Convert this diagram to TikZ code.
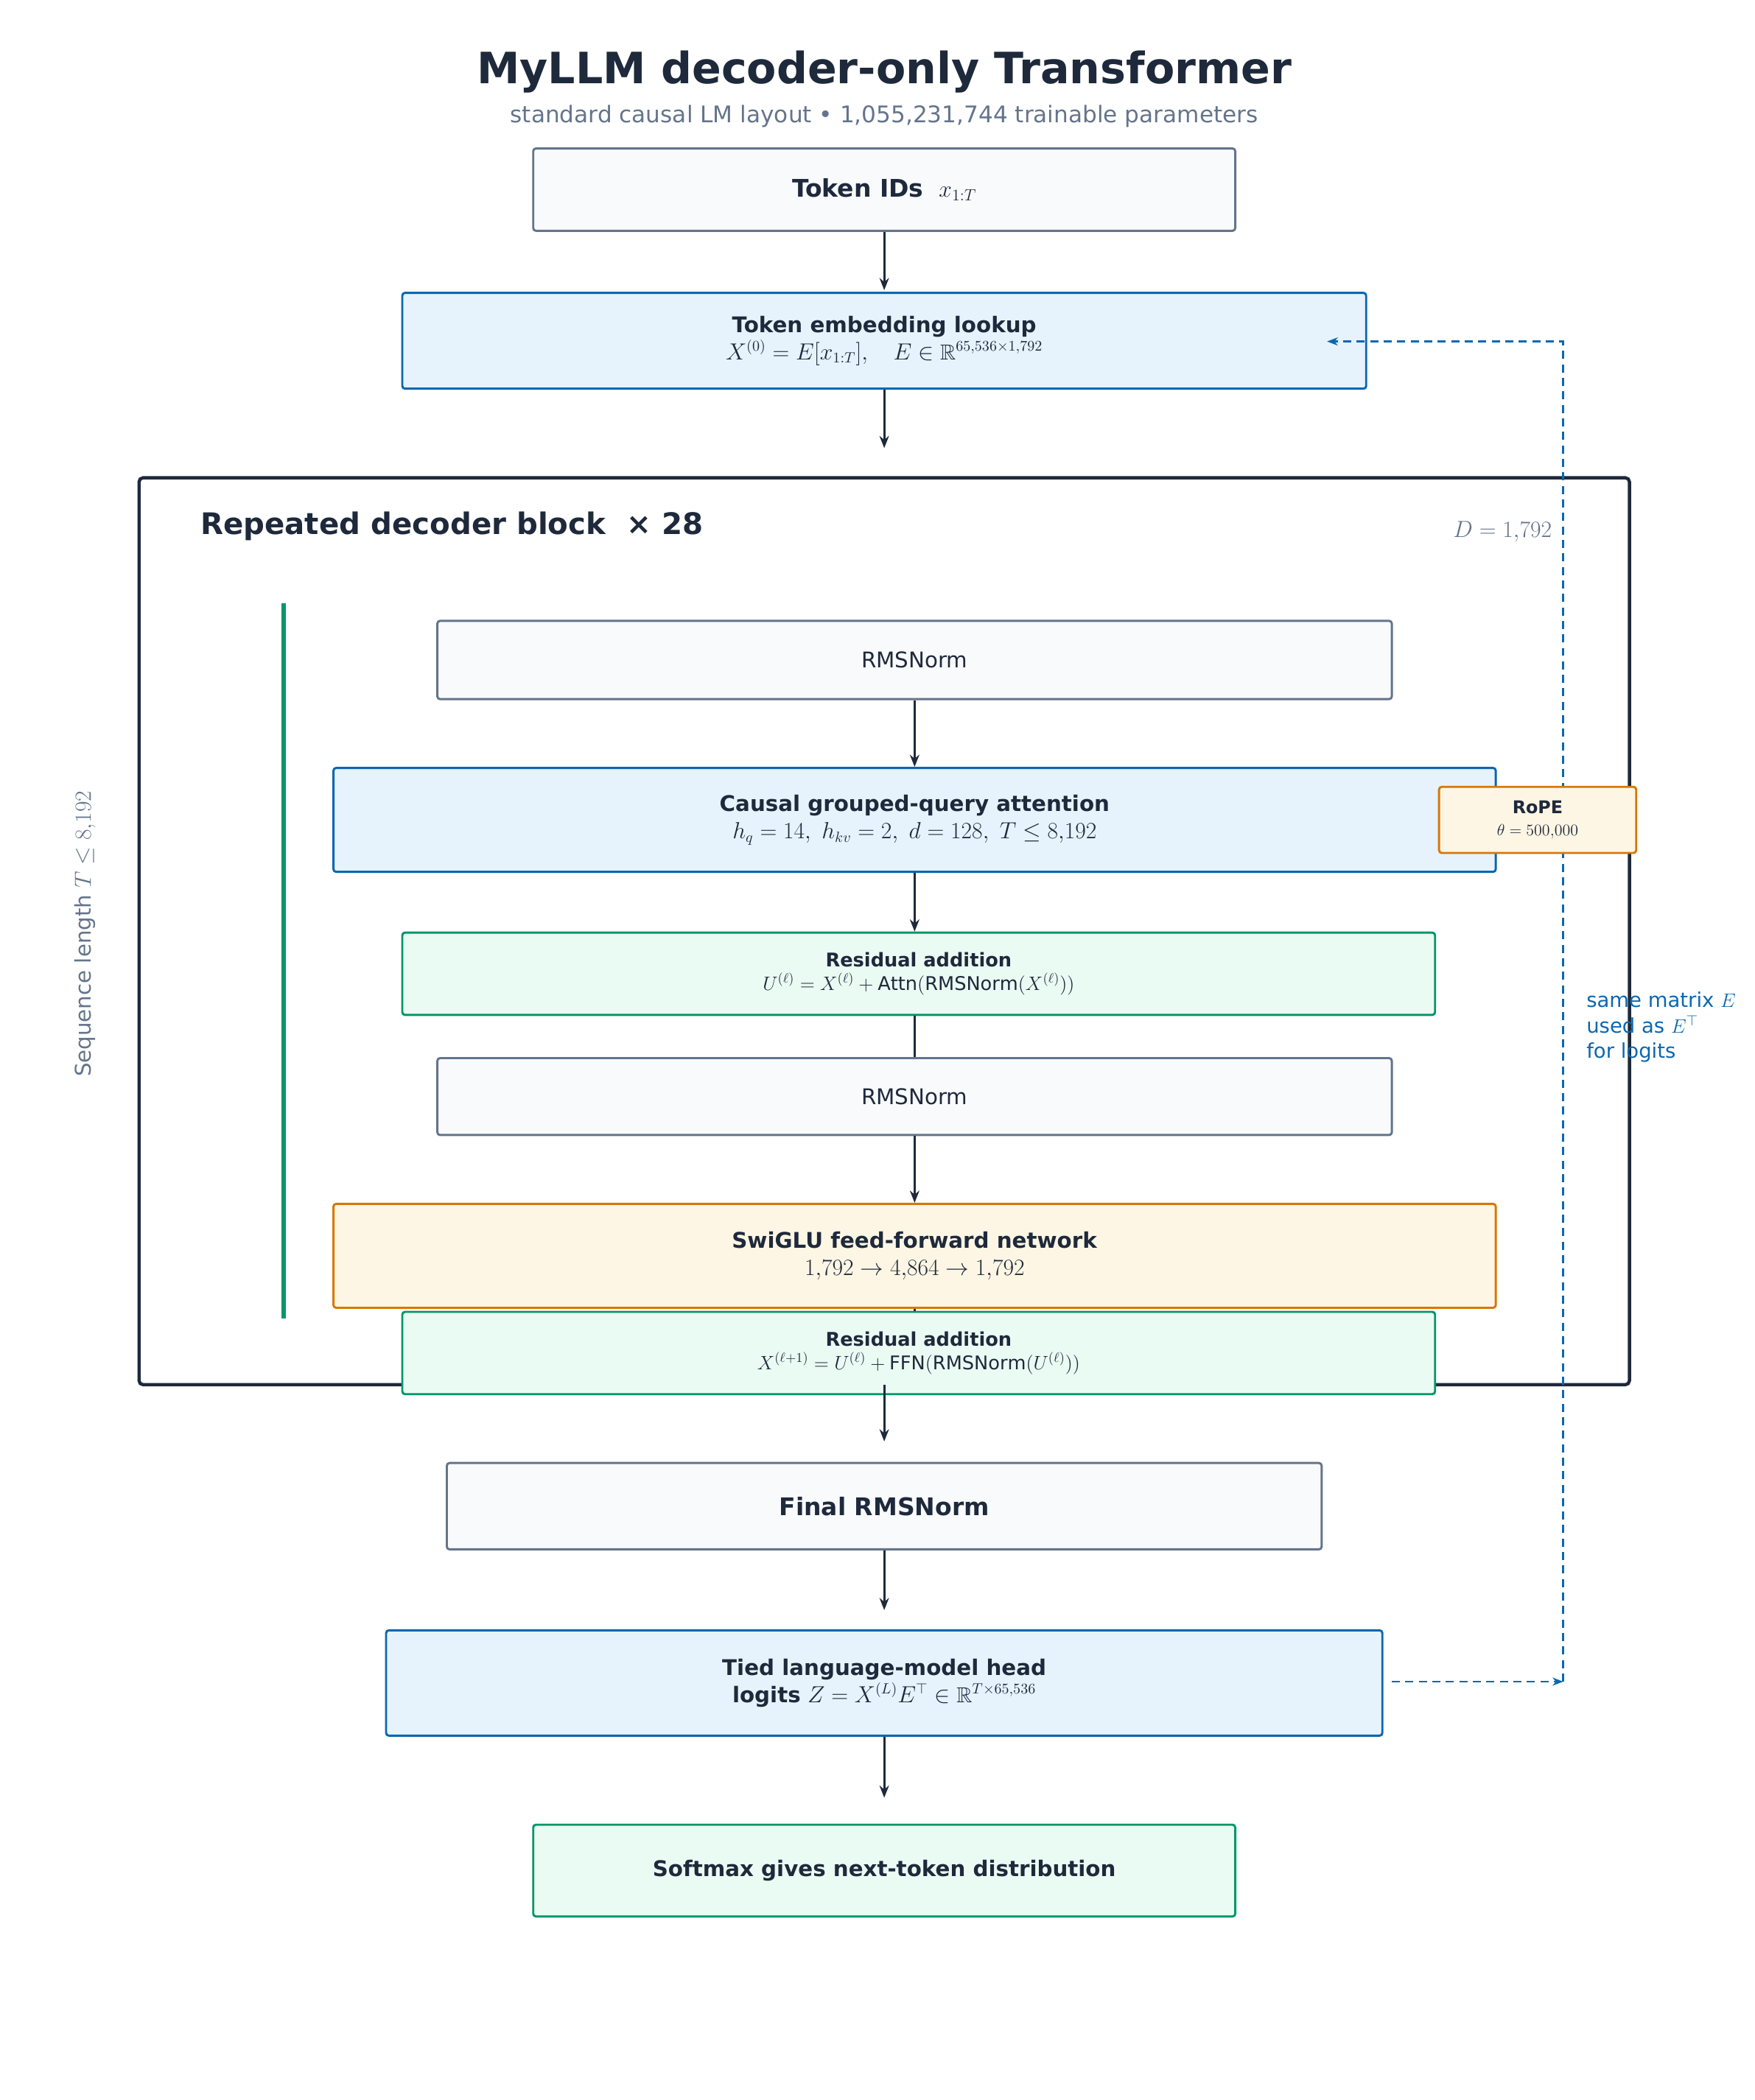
\documentclass[tikz,border=0pt]{standalone}
\usepackage{amssymb}
\usepackage{fontspec}
\setmainfont{DejaVu Sans}
\usetikzlibrary{arrows.meta}
\definecolor{ink}{HTML}{1E293B}
\definecolor{slate}{HTML}{64748B}
\definecolor{gfill}{HTML}{F8FAFC}
\definecolor{bfill}{HTML}{E6F3FC}
\definecolor{bdraw}{HTML}{0B67B0}
\definecolor{ofill}{HTML}{FEF6E4}
\definecolor{odraw}{HTML}{D97706}
\definecolor{tfill}{HTML}{EAFBF3}
\definecolor{tdraw}{HTML}{059669}
\newcommand{\fs}[1]{\fontsize{#1pt}{\dimexpr #1pt*5/4\relax}\selectfont}
\tikzset{
 bx/.style={rounded corners=2pt,line width=1.6pt,align=center,text=ink,inner sep=0pt},
 grey/.style={bx,fill=gfill,draw=slate},
 blue/.style={bx,fill=bfill,draw=bdraw},
 orng/.style={bx,fill=ofill,draw=odraw},
 teal/.style={bx,fill=tfill,draw=tdraw},
 ar/.style={-{Stealth[length=9pt,width=7pt]},line width=1.6pt,draw=ink},
 ln/.style={line width=1.6pt,draw=ink},
 da/.style={line width=1.6pt,draw=bdraw,dash pattern=on 6pt off 4pt},
}
\begin{document}
\begin{tikzpicture}[x=1pt,y=-1pt]
\useasboundingbox (0,0) rectangle (1300,1556);
\node[text=ink,font=\fs{32}\bfseries] (title) at (655,53) {MyLLM decoder-only Transformer};
\node[text=slate,font=\fs{17}] (sub) at (655,86) {standard causal LM layout • 1,055,231,744 trainable parameters};
% outer block
\draw[line width=2.4pt,draw=ink,rounded corners=3pt] (103,354) rectangle (1207,1026);
\node[anchor=west,text=ink,font=\fs{22}\bfseries] (rep) at (145,390) {Repeated decoder block \ × 28};
\node[anchor=east,text=slate,font=\fs{16}] (dd) at (1153,394) {$D = 1{,}792$};
\draw[line width=3.5pt,draw=tdraw] (210,447) -- (210,977);
\node[rotate=90,text=slate,font=\fs{16}] (seq) at (63,692) {Sequence length $T \leq 8{,}192$};
% boxes
\node[grey,minimum width=520pt,minimum height=61pt,font=\fs{18}] (tok) at (655,140.5) {\textbf{Token IDs} \ $x_{1:T}$};
\node[blue,minimum width=714pt,minimum height=71pt,font=\fs{16}] (emb) at (655,252.5) {\textbf{Token embedding lookup}\\ $X^{(0)} = E[x_{1:T}],\quad E \in \mathbb{R}^{65{,}536\times 1{,}792}$};
\node[grey,minimum width=707pt,minimum height=58pt,font=\fs{16}] (n1) at (677.5,489) {RMSNorm};
\node[blue,minimum width=861pt,minimum height=77pt,font=\fs{16}] (att) at (677.5,607.5) {\textbf{Causal grouped-query attention}\\ $h_q = 14,\ h_{kv} = 2,\ d = 128,\ T \leq 8{,}192$};
\node[teal,minimum width=765pt,minimum height=61pt,font=\fs{14}] (r1) at (680.5,721.5) {\textbf{Residual addition}\\ $U^{(\ell)} = X^{(\ell)} + \mathrm{Attn}(\mathrm{RMSNorm}(X^{(\ell)}))$};
\node[grey,minimum width=707pt,minimum height=57pt,font=\fs{16}] (n2) at (677.5,812.5) {RMSNorm};
\node[orng,minimum width=861pt,minimum height=77pt,font=\fs{16}] (ffn) at (677.5,930.5) {\textbf{SwiGLU feed-forward network}\\ $1{,}792 \rightarrow 4{,}864 \rightarrow 1{,}792$};
\node[teal,minimum width=765pt,minimum height=61pt,font=\fs{14}] (r2) at (680.5,1002.5) {\textbf{Residual addition}\\ $X^{(\ell+1)} = U^{(\ell)} + \mathrm{FFN}(\mathrm{RMSNorm}(U^{(\ell)}))$};
\node[grey,minimum width=648pt,minimum height=64pt,font=\fs{18}\bfseries] (fn) at (655,1116) {Final RMSNorm};
\node[blue,minimum width=738pt,minimum height=78pt,font=\fs{16}] (head) at (655,1247) {\textbf{Tied language-model head}\\ \textbf{logits} $Z = X^{(L)}E^{\top} \in \mathbb{R}^{T\times 65{,}536}$};
\node[teal,minimum width=520pt,minimum height=68pt,font=\fs{16}\bfseries] (sm) at (655,1386) {Softmax gives next-token distribution};
% tie
\coordinate (c1) at (1158,1246);
\coordinate (c2) at (1158,253);
\coordinate (c3) at (983,253);
\draw[da,-{Stealth[length=8pt,width=6pt]}] (1031,1246) -- (c1);
\draw[da,-{Stealth[length=8pt,width=6pt]}] (c1) -- (c2) -- (c3);
\node[orng,minimum width=146pt,minimum height=49pt,font=\fs{13}] (rope) at (1139,607.5) {\textbf{RoPE}\\ $\theta = 500{,}000$};
\node[anchor=north west,align=left,text=bdraw,font=\fs{15},inner sep=0pt] (note) at (1175,735) {same matrix $E$\\ used as $E^{\top}$\\ for logits};
% flow arrows
\draw[ar] (tok.south) -- (655,215);
\draw[ar] (emb.south) -- (655,332);
\draw[ar] (n1.south) -- (att.north);
\draw[ar] (att.south) -- (r1.north -| att.south);
\draw[ln] (r1.south -| n2.north) -- (n2.north);
\draw[ar] (n2.south) -- (ffn.north);
\draw[ln] (ffn.south) -- (r2.north -| ffn.south);
\draw[ar] (655,1026) -- (655,1068);
\draw[ar] (fn.south) -- (655,1193);
\draw[ar] (head.south) -- (655,1332);
\end{tikzpicture}
\end{document}
